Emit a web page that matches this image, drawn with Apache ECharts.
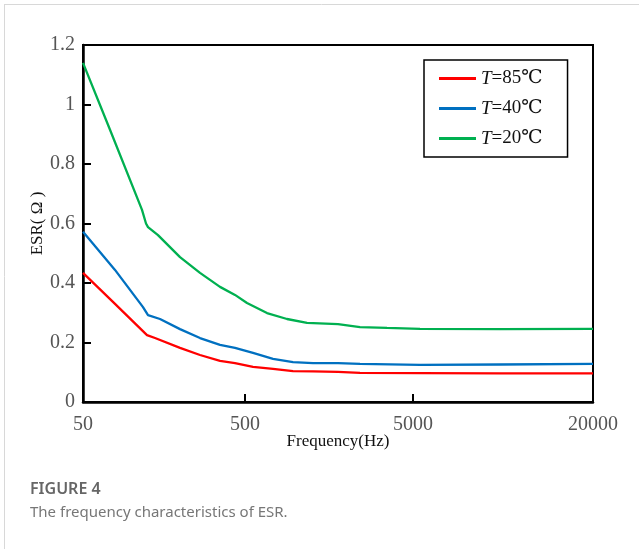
<!DOCTYPE html>
<html>
<head>
<meta charset="utf-8">
<script src="https://cdn.jsdelivr.net/npm/echarts@6/dist/echarts.min.js"></script>
<style>
  body { margin: 0; background: #fff; }
  #chart { width: 639px; height: 549px; }
</style>
</head>
<body>
<div id="chart"></div>
<script>
// x positions are in axis units along the frequency axis (0 = 50 Hz, 510 = 20000 Hz)
const xTickPos = [0, 162, 330, 510];
const xTickLabels = ['50', '500', '5000', '20000'];

const red85 = [
  [0, 0.434], [32, 0.33], [64, 0.225], [72, 0.215], [97, 0.182], [117, 0.158],
  [137, 0.138], [152, 0.131], [170, 0.118], [190, 0.111], [210, 0.104], [230, 0.103],
  [255, 0.101], [277, 0.098], [337, 0.097], [417, 0.096], [510, 0.096]
];
const blue40 = [
  [0, 0.572], [32, 0.444], [60, 0.319], [65, 0.292], [77, 0.279], [97, 0.245],
  [117, 0.215], [137, 0.192], [152, 0.182], [170, 0.165], [190, 0.145], [210, 0.134],
  [230, 0.131], [255, 0.131], [277, 0.128], [337, 0.125], [417, 0.126], [510, 0.128]
];
const green20 = [
  [0, 1.14], [27, 0.915], [59, 0.646], [63, 0.60], [65, 0.588], [75, 0.561],
  [97, 0.487], [117, 0.434], [137, 0.387], [152, 0.360], [164, 0.333], [184, 0.299],
  [204, 0.279], [224, 0.266], [255, 0.262], [277, 0.252], [304, 0.249], [337, 0.246],
  [417, 0.245], [510, 0.246]
];

const serif = '"Liberation Serif", "DejaVu Serif", serif';
const chart = echarts.init(document.getElementById('chart'));

function line(name, data, color) {
  return {
    name: name, type: 'line', data: data, symbol: 'none', smooth: false,
    lineStyle: { color: color, width: 2.3 }, itemStyle: { color: color }
  };
}

chart.setOption({
  animation: false,
  grid: {
    left: 83, right: 46, top: 45, bottom: 147,
    show: true, borderColor: '#000', borderWidth: 2
  },
  legend: {
    left: 424, top: 60, orient: 'vertical',
    borderColor: '#000', borderWidth: 1.5,
    padding: [9, 25, 9, 15],
    icon: 'rect',
    itemWidth: 37, itemHeight: 3, itemGap: 11,
    textStyle: {
      fontFamily: serif, fontSize: 18, color: '#111',
      rich: { i: { fontFamily: serif, fontSize: 19, fontStyle: 'italic', color: '#111' },
              n: { fontFamily: serif, fontSize: 19, color: '#111' } }
    },
    formatter: function (n) { return '{i|T}{n|' + n.slice(1) + '}'; },
    data: ['T=85℃', 'T=40℃', 'T=20℃']
  },
  xAxis: {
    type: 'value', min: 0, max: 510,
    name: 'Frequency(Hz)', nameLocation: 'middle', nameGap: 31, nameMoveOverlap: false,
    nameTextStyle: { fontFamily: serif, fontSize: 17, color: '#111' },
    axisLine: { lineStyle: { color: '#000', width: 2.5 } },
    axisTick: { show: true, inside: true, length: 8, lineStyle: { color: '#000', width: 2 },
                customValues: [162, 330] },
    axisLabel: {
      customValues: xTickPos, margin: 13,
      fontFamily: serif, fontSize: 20, color: '#555',
      formatter: function (v) { return xTickLabels[xTickPos.indexOf(v)]; }
    },
    splitLine: { show: false }
  },
  yAxis: {
    type: 'value', min: 0, max: 1.2, interval: 0.2,
    name: 'ESR( Ω )', nameLocation: 'middle', nameGap: 37, nameMoveOverlap: false,
    nameTextStyle: { fontFamily: serif, fontSize: 17, color: '#111' },
    axisLine: { lineStyle: { color: '#000', width: 2.5 } },
    axisTick: { show: true, inside: true, length: 8, lineStyle: { color: '#000', width: 2 } },
    axisLabel: { margin: 8, fontFamily: serif, fontSize: 20, color: '#555' },
    splitLine: { show: false }
  },
  graphic: [
    { type: 'line', shape: { x1: 4.5, y1: 4, x2: 4.5, y2: 549 }, style: { stroke: '#d8d8d8', lineWidth: 1 } },
    { type: 'line', shape: { x1: 4, y1: 4.5, x2: 639, y2: 4.5 }, style: { stroke: '#d8d8d8', lineWidth: 1 } },
    { type: 'text', left: 30, top: 481,
      style: { text: 'FIGURE 4', fontFamily: '"Noto Sans", sans-serif', fontSize: 16, fontWeight: 600, fill: '#666' } },
    { type: 'text', left: 30, top: 505,
      style: { text: 'The frequency characteristics of ESR.', fontFamily: '"Noto Sans", sans-serif', fontSize: 15, fill: '#777' } }
  ],
  series: [
    line('T=85℃', red85, '#ff0000'),
    line('T=40℃', blue40, '#0070c0'),
    line('T=20℃', green20, '#00b050')
  ]
});
</script>
</body>
</html>
